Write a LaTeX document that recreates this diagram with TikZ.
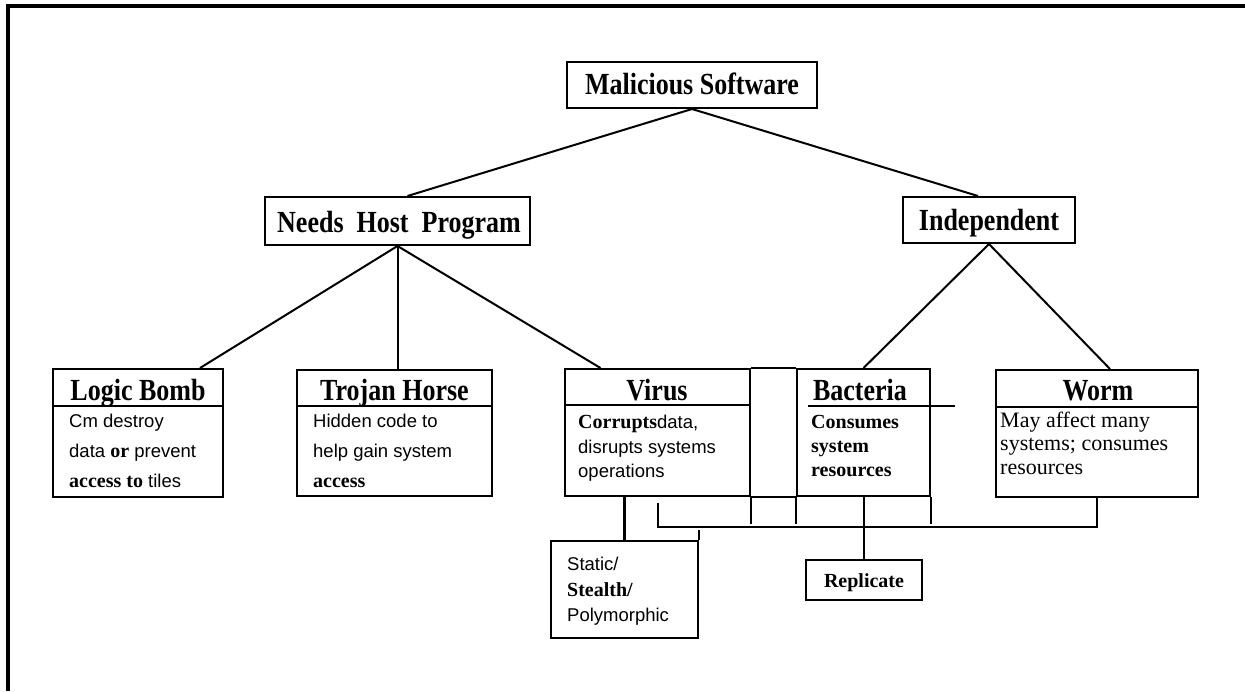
\documentclass[tikz,border=0pt]{standalone}
\usepackage{fontspec}
\usepackage{graphicx}
\setmainfont{Liberation Serif}
\newfontfamily\arialf{Liberation Sans}
\newcommand\serbold[1]{{\rmfamily\bfseries\fontsize{20}{22}\selectfont #1}}
\newcommand\hdtxt[1]{\scalebox{1}[1.18]{#1}}
\tikzset{
  box/.style={draw, line width=2pt, rectangle, inner sep=0pt},
  conn/.style={line width=2pt},
  head/.style={inner sep=0pt, anchor=base, font=\rmfamily\bfseries\fontsize{26}{28}\selectfont},
  body/.style={inner sep=0pt, anchor=base west, font=\arialf\fontsize{18.5}{22}\selectfont},
  sbody/.style={inner sep=0pt, anchor=base west, font=\rmfamily\bfseries\fontsize{20}{24}\selectfont},
  wbody/.style={inner sep=0pt, anchor=base west, font=\rmfamily\fontsize{22}{26}\selectfont},
}
\begin{document}
\begin{tikzpicture}[x=1pt,y=-1pt]
\useasboundingbox (0,0) rectangle (1245,691);
% frame
\draw[line width=3.5pt] (8,691) -- (8,6) -- (1245,6);

% boxes
\node[box, minimum width=250, minimum height=46] (ms) at (692,85) {};
\node[box, minimum width=265, minimum height=48] (nhp) at (397.5,221) {};
\node[box, minimum width=172, minimum height=46] (ind) at (989,220) {};
\node[box, minimum width=170, minimum height=128] (lb) at (138,433) {};
\node[box, minimum width=195, minimum height=126] (th) at (394.5,433) {};
\node[box, minimum width=185, minimum height=127] (vir) at (657.5,432.5) {};
\node[box, minimum width=133, minimum height=127] (bac) at (863.5,432.5) {};
\node[box, minimum width=202, minimum height=127] (worm) at (1097,433.5) {};
\node[box, minimum width=147, minimum height=97] (stat) at (624.5,589.5) {};
\node[box, minimum width=116, minimum height=40] (rep) at (864,580) {};

% dividers
\draw[conn] (lb.west |- 0,406) -- (lb.east |- 0,406);
\draw[conn] (th.west |- 0,406) -- (th.east |- 0,406);
\draw[conn] (vir.west |- 0,405) -- (vir.east |- 0,405);
\draw[conn] (808,406) -- (955,406);
\draw[conn] (worm.west |- 0,407) -- (worm.east |- 0,407);

% headings
\node[head] (msT) at (692,94) {\hdtxt{Malicious Software}};
\node[head] (nhpT) at (399,232) {\hdtxt{Needs\ \ Host\ \ Program}};
\node[head] (indT) at (989,230) {\hdtxt{Independent}};
\node[head] (lbT) at (138,400) {\hdtxt{Logic Bomb}};
\node[head] (thT) at (394.5,400) {\hdtxt{Trojan Horse}};
\node[head] (virT) at (657,400) {\hdtxt{Virus}};
\node[head] (bacT) at (860,400) {\hdtxt{Bacteria}};
\node[head] (wormT) at (1098,400) {\hdtxt{Worm}};

% bodies
\node[body] (lb1) at (69,427) {Cm\ destroy};
\node[body] (lb2) at (69,457) {data \serbold{or} prevent};
\node[body] (lb3) at (69,487) {\serbold{access to} tiles};
\node[body] (th1) at (313,427) {Hidden code to};
\node[body] (th2) at (313,457) {help\ gain system};
\node[body] (th3) at (313,487) {\serbold{access}};
\node[body] (vir1) at (578,428) {\serbold{Corrupts}data,};
\node[body] (vir2) at (578,453) {disrupts\ systems};
\node[body] (vir3) at (578,477) {operations};
\node[sbody] (bac1) at (811,428) {Consumes};
\node[sbody] (bac2) at (811,452) {system};
\node[sbody] (bac3) at (811,476) {resources};
\node[wbody] (w1) at (1000,427) {May affect many};
\node[wbody] (w2) at (1000,450) {systems; consumes};
\node[wbody] (w3) at (1000,474) {resources};
\node[body] (st1) at (567,570) {Static/};
\node[body] (st2) at (567,596) {\serbold{Stealth/}};
\node[body] (st3) at (567,621) {Polymorphic};
\node[inner sep=0pt, anchor=base, font=\rmfamily\bfseries\fontsize{20}{24}\selectfont] (repT) at (864,587) {Replicate};

% connectors
\draw[conn] (ms.south) -- ([xshift=10pt]nhp.north);
\draw[conn] (ms.south) -- ([xshift=-11pt]ind.north);
\draw[conn] (nhp.south) -- ([xshift=62pt]lb.north);
\draw[conn] (nhp.south) -- (nhp.south |- th.north);
\draw[conn] (nhp.south) -- ([xshift=-57pt]vir.north);
\draw[conn] (ind.south) -- (bac.north);
\draw[conn] (ind.south) -- ([xshift=13pt]worm.north);

\draw[conn] (vir.north east) -- (bac.north west);
\draw[conn] (vir.south east) -- (bac.south west);
\draw[conn] (vir.south east) -- ++(0,27);
\draw[conn] (bac.south west) -- ++(0,27);
\draw[conn] (bac.south east) -- ++(0,27);
\draw[line width=3pt] (stat.north) -- (stat.north |- vir.south);
\draw[conn] (stat.north east) -- ++(0,-10);
\coordinate (wbus) at (1097,527);
\draw[conn] ([yshift=-6pt]vir.south) |- (wbus) -- (worm.south);
\draw[line width=1.6pt] (rep.north) -- (rep.north |- bac.south);
\end{tikzpicture}
\end{document}
